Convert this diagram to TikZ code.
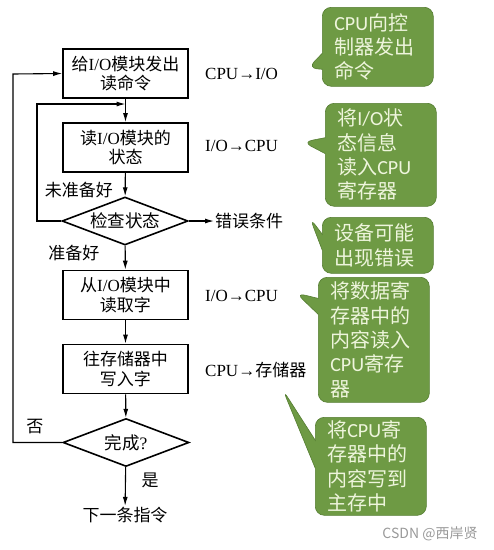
\documentclass[tikz,border=0pt]{standalone}
\usepackage{fontspec}
\setmainfont{Noto Sans CJK SC}
\newfontfamily\tm{Liberation Serif}
\newfontfamily\cb{Carlito}
\usetikzlibrary{shapes.geometric,shapes.callouts,arrows.meta}
\definecolor{leaf}{HTML}{6E9A44}
\definecolor{leafdark}{HTML}{557D32}
\definecolor{leaftext}{HTML}{EEF5DC}
\begin{document}
\begin{tikzpicture}[x=1pt,y=-1pt]
        \tikzstyle{procbox}=[rectangle,draw=black,line width=1.6pt,minimum width=125pt,minimum height=49pt,align=center,font=\fontsize{17}{19.5}\selectfont]
        \tikzstyle{check}=[diamond,draw=black,line width=1.6pt,shape aspect=2.6,inner sep=0pt,minimum width=126pt,minimum height=48pt,font=\fontsize{17.5}{20}\selectfont]
        \tikzstyle{lbl}=[inner sep=1pt,font=\fontsize{17}{20}\selectfont]
        \tikzstyle{flow}=[draw,line width=1.1pt,-{Latex[length=9pt,width=5pt]}]
        \tikzstyle{note}=[rectangle callout,rounded corners=9pt,fill=leaf,draw=leafdark,line width=0.6pt,text=leaftext,anchor=north west,align=left,text width=87pt,inner xsep=12pt,inner ysep=2pt,font=\fontsize{20}{24.3}\selectfont,callout pointer width=16pt]
        \useasboundingbox (0,0) rectangle (494,550);
        % flow chart
        \node [procbox] (b1) at (125.5,73.5) {给{\tm I/O}模块发出\\读命令};
        \node [procbox] (b2) at (125.5,147.5) {读{\tm I/O}模块的\\状态};
        \node [check] (d1) at (125,221) {检查状态};
        \node [procbox] (b3) at (125.5,295) {从{\tm I/O}模块中\\读取字};
        \node [procbox] (b4) at (125.5,369) {往存储器中\\写入字};
        \node [check] (d2) at (126,442.5) {完成{\tm ?}};
        \node [lbl] (next) at (125,515) {下一条指令};
        \node [lbl,anchor=west] (err) at (214,221) {错误条件};
        \node [lbl] (notready) at (79,190) {未准备好};
        \node [lbl] (ready) at (74,253) {准备好};
        \node [lbl] (no) at (35,427) {否};
        \node [lbl] (yes) at (150,480) {是};
        \node [lbl,anchor=west] (t1) at (204,74) {\tm CPU→I/O};
        \node [lbl,anchor=west] (t2) at (204,146) {\tm I/O→CPU};
        \node [lbl,anchor=west] (t3) at (204,296) {\tm I/O→CPU};
        \node [lbl,anchor=west] (t4) at (204,370) {{\tm CPU→}存储器};
        \coordinate (join1) at (125.5,104);
        \coordinate (loopa) at (37,104);
        \coordinate (loopb) at (13,74);
        \path[flow] (b1) edge (b2);
        \path[flow] (b2) edge (d1);
        \path[flow] (d1) edge (b3);
        \path[flow] (b3) edge (b4);
        \path[flow] (b4) edge (d2);
        \path[flow] (d2) edge (next);
        \path[flow] (d1) edge (err);
        \draw[flow] (d1.west) -| (loopa) -- (join1);
        \draw[flow] (d2.west) -| (loopb) -- (b1.west);
        % notes
        \coordinate (tip1) at (308,68);
        \coordinate (tip2) at (303,142);
        \coordinate (tip3) at (310,218);
        \coordinate (tip4) at (296,293);
        \coordinate (tip5) at (283,390);
        \node [note,minimum height=79pt,callout absolute pointer={(tip1)}] (n1) at (322,7) {{\cb CPU}向控\\制器发出\\命令};
        \node [note,minimum height=103pt,callout absolute pointer={(tip2)}] (n2) at (325,103) {将{\cb I/O}状\\态信息\\读入{\cb CPU}\\寄存器};
        \node [note,minimum height=56pt,callout absolute pointer={(tip3)}] (n3) at (322,217) {设备可能\\出现错误};
        \node [note,minimum height=125pt,callout absolute pointer={(tip4)}] (n4) at (318,277) {将数据寄\\存器中的\\内容读入\\{\cb CPU}寄存\\器};
        \node [note,minimum height=98pt,callout absolute pointer={(tip5)},callout pointer width=28pt] (n5) at (315,417) {将{\cb CPU}寄\\存器中的\\内容写到\\主存中};
        \node [text=black!40,font=\fontsize{14}{16}\selectfont] (wm) at (430,534) {CSDN @西岸贤};
\end{tikzpicture}
\end{document}
